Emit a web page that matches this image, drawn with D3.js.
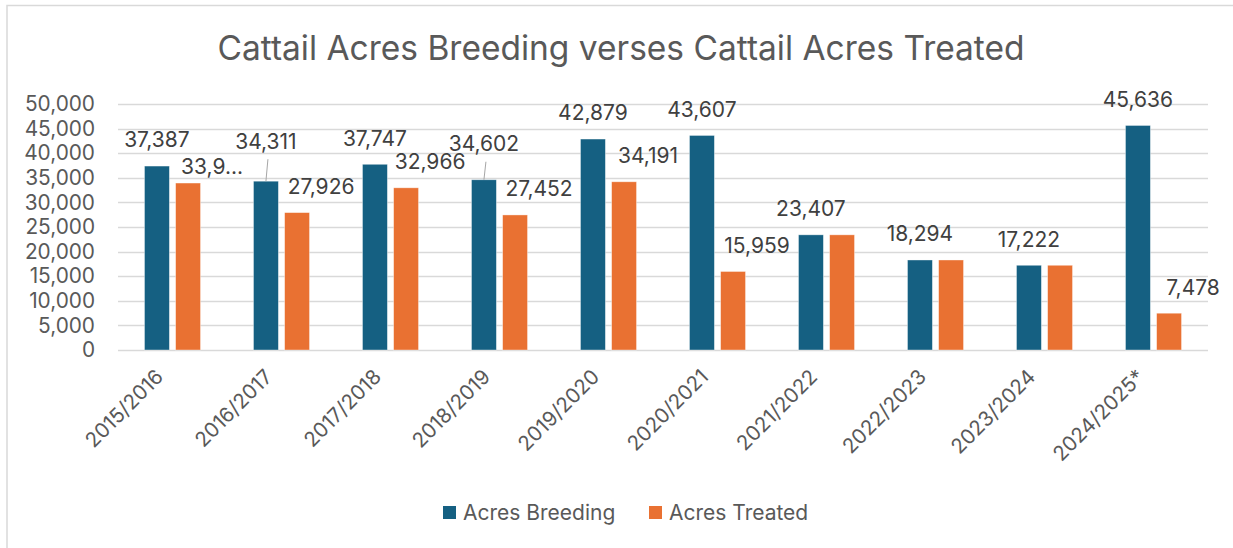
<!DOCTYPE html>
<html>
<head>
<meta charset="utf-8">
<script src="https://cdn.jsdelivr.net/npm/d3@7"></script>
<style>
  body { margin: 0; background: #fff; }
  svg { display: block; font-family: Inter, "Open Sans", sans-serif; }
</style>
</head>
<body>
<div id="chart"></div>
<script>
// data
const seasons = ["2015/2016", "2016/2017", "2017/2018", "2018/2019", "2019/2020",
                 "2020/2021", "2021/2022", "2022/2023", "2023/2024", "2024/2025*"];
const acresBreeding = [37387, 34311, 37747, 34602, 42879, 43607, 23407, 18294, 17222, 45636];
const acresTreated  = [33936, 27926, 32966, 27452, 34191, 15959, 23407, 18294, 17222, 7478];
const seriesNames = ["Acres Breeding", "Acres Treated"];
const yTicks = [0, 5000, 10000, 15000, 20000, 25000, 30000, 35000, 40000, 45000, 50000];

// layout
const W = 1233, H = 548;
const plot = {left: 118, right: 1208, top: 104, bottom: 350};
const colors = ["#156082", "#E97132"];
const labelOffset = 26;      // label centre above bar top
const treatedShift = 24;     // treated labels sit a bit to the right
// labels that were dragged by hand in the original
const labelLift = {0: {1: 40, 3: 36}, 1: {0: 16}};
const truncated = {1: {0: "33,9..."}};

const svg = d3.select("#chart").append("svg")
    .attr("width", W)
    .attr("height", H);

// chart border (only left/top visible)
svg.append("rect")
    .attr("x", 7).attr("y", 5.5)
    .attr("width", W + 20).attr("height", H + 20)
    .style("fill", "none")
    .style("stroke", "#d9d9d9")
    .style("stroke-width", 1.5);

svg.append("text")
    .attr("x", 621)
    .attr("y", 60)
    .attr("text-anchor", "middle")
    .style("font-size", "33.5px")
    .style("fill", "#595959")
    .text("Cattail Acres Breeding verses Cattail Acres Treated");

const x0 = d3.scaleBand()
    .domain(seasons)
    .range([plot.left, plot.right])
    .paddingInner(0.486)
    .paddingOuter(0.243);

const x1 = d3.scaleBand()
    .domain([0, 1])
    .range([0, x0.bandwidth()])
    .paddingInner(0.2);

const y = d3.scaleLinear()
    .domain([0, 50000])
    .range([plot.bottom, plot.top]);

const fmt = d3.format(",");

// gridlines
svg.append("g")
    .selectAll("line")
    .data(yTicks)
    .join("line")
    .attr("x1", plot.left).attr("x2", plot.right)
    .attr("y1", d => Math.round(y(d)) + 0.5)
    .attr("y2", d => Math.round(y(d)) + 0.5)
    .style("stroke", "#d9d9d9")
    .style("stroke-width", 1.3);

// y axis labels
const yAxis = svg.append("g")
    .attr("transform", `translate(${plot.left},0)`)
    .call(d3.axisLeft(y).tickValues(yTicks).tickFormat(fmt).tickSize(0).tickPadding(23));
yAxis.select(".domain").remove();
yAxis.selectAll("text")
    .style("font-family", "Inter, sans-serif")
    .style("font-size", "20.8px")
    .style("fill", "#595959");

// x axis labels
svg.append("g")
    .selectAll("text")
    .data(seasons)
    .join("text")
    .attr("transform", d => `translate(${x0(d) + x0.bandwidth() / 2 - 13},${plot.bottom + 23}) rotate(-45)`)
    .attr("text-anchor", "end")
    .attr("dy", "0.35em")
    .style("font-size", "20.5px")
    .style("fill", "#595959")
    .text(d => d);

// bars
const series = [acresBreeding, acresTreated];
const rows = [];
series.forEach((vals, s) => {
    vals.forEach((v, i) => rows.push({s, i, season: seasons[i], value: v}));
});

svg.append("g")
    .selectAll("rect")
    .data(rows)
    .join("rect")
    .attr("x", d => x0(d.season) + x1(d.s))
    .attr("y", d => y(d.value))
    .attr("width", x1.bandwidth())
    .attr("height", d => y(0) - y(d.value))
    .style("fill", d => colors[d.s])
    .style("stroke", "#fff")
    .style("stroke-opacity", 0.5)
    .style("stroke-width", 0.75);

// data labels (treated label hidden where it would sit on the breeding one)
const labelRows = rows.filter(d => !(d.s === 1 && d.value === acresBreeding[d.i]));
const labelG = svg.append("g");

labelRows.forEach(d => {
    const cx = x0(d.season) + x1(d.s) + x1.bandwidth() / 2 + (d.s === 1 ? treatedShift : 0);
    const top = y(d.value);
    const lift = (labelLift[d.s] && labelLift[d.s][d.i]) || labelOffset;
    const cy = top - lift;
    const txt = (truncated[d.s] && truncated[d.s][d.i]) || fmt(d.value);

    if (lift > 30) {
        labelG.append("line")
            .attr("x1", cx + 2).attr("y1", cy + 18)
            .attr("x2", cx).attr("y2", top)
            .style("stroke", "#a6a6a6")
            .style("stroke-width", 1);
    }
    labelG.append("text")
        .attr("x", cx)
        .attr("y", cy)
        .attr("dy", "0.35em")
        .attr("text-anchor", "middle")
        .style("font-size", "21px")
        .style("fill", "#404040")
        .text(txt);
});

// legend
const legend = svg.append("g");
const legendX = [443, 649];
seriesNames.forEach((name, s) => {
    legend.append("rect")
        .attr("x", legendX[s]).attr("y", 506)
        .attr("width", 13).attr("height", 13)
        .style("fill", colors[s]);
    legend.append("text")
        .attr("x", legendX[s] + 20)
        .attr("y", 512.5)
        .attr("dy", "0.35em")
        .style("font-size", "21px")
        .style("fill", "#595959")
        .text(name);
});
</script>
</body>
</html>
